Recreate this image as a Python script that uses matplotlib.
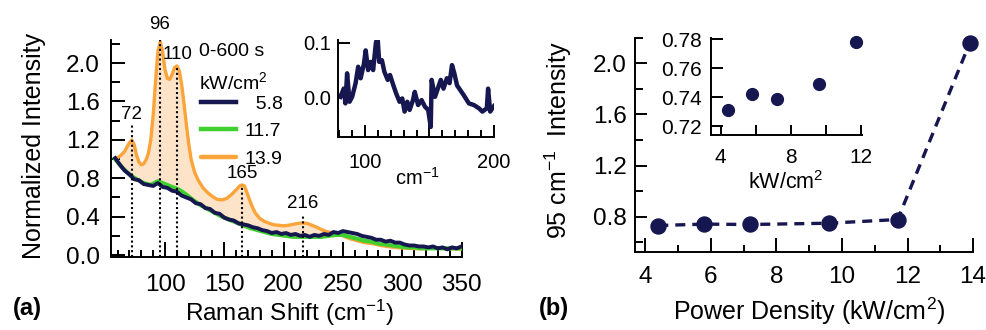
import numpy as np
import matplotlib
matplotlib.use("Agg")
import matplotlib.pyplot as plt
from matplotlib.ticker import MultipleLocator, FixedLocator, FormatStrFormatter

plt.rcParams['font.family'] = ['Liberation Sans', 'DejaVu Sans']
plt.rcParams['mathtext.fontset'] = 'custom'
plt.rcParams['mathtext.rm'] = 'Liberation Sans'
plt.rcParams['mathtext.it'] = 'Liberation Sans:italic'
plt.rcParams['mathtext.bf'] = 'Liberation Sans:bold'

NAVY = '#161650'
GREEN = '#3fcf2f'
ORANGE = '#fba43a'
FILL = '#fde4c9'

# ---- Raman spectra, 0-600 s accumulation (normalized) ----
shift_58 = [58, 62, 66, 70, 74, 78, 82, 86, 90, 94, 98, 102, 106, 110, 114, 118,
            122, 126, 130, 134, 138, 142, 146, 150, 154, 158, 162, 166, 170, 174,
            178, 182, 186, 190, 194, 198, 202, 206, 210, 214, 218, 222, 226, 230,
            234, 238, 242, 246, 250, 254, 258, 262, 266, 270, 274, 278, 282, 286,
            290, 294, 298, 302, 306, 310, 314, 318, 322, 326, 330, 334, 338, 342,
            346, 350]
int_58 = [1.01, 0.94, 0.88, 0.84, 0.79, 0.78, 0.74, 0.73, 0.72, 0.75, 0.71, 0.70,
          0.67, 0.66, 0.62, 0.60, 0.58, 0.54, 0.53, 0.49, 0.48, 0.44, 0.43, 0.39,
          0.37, 0.36, 0.33, 0.32, 0.31, 0.29, 0.28, 0.26, 0.25, 0.23, 0.24, 0.22,
          0.23, 0.21, 0.22, 0.20, 0.21, 0.19, 0.21, 0.20, 0.22, 0.21, 0.24, 0.23,
          0.25, 0.24, 0.23, 0.22, 0.20, 0.19, 0.18, 0.16, 0.16, 0.14, 0.15, 0.13,
          0.13, 0.11, 0.10, 0.10, 0.09, 0.09, 0.08, 0.09, 0.07, 0.08, 0.06, 0.08,
          0.07, 0.09]

shift_117 = [58, 64, 70, 76, 82, 88, 94, 100, 106, 112, 118, 124, 130, 136, 142,
             148, 154, 160, 166, 172, 178, 184, 190, 196, 202, 208, 214, 220, 226,
             232, 238, 244, 250, 256, 262, 268, 274, 280, 286, 292, 298, 304, 310,
             316, 322, 328, 334, 340, 346, 350]
int_117 = [1.00, 0.91, 0.84, 0.79, 0.75, 0.73, 0.77, 0.74, 0.71, 0.68, 0.63, 0.57,
           0.52, 0.48, 0.44, 0.40, 0.37, 0.34, 0.31, 0.28, 0.26, 0.24, 0.22, 0.21,
           0.20, 0.19, 0.19, 0.19, 0.19, 0.19, 0.20, 0.21, 0.21, 0.19, 0.17, 0.15,
           0.14, 0.12, 0.11, 0.10, 0.09, 0.08, 0.08, 0.07, 0.07, 0.07, 0.07, 0.07,
           0.07, 0.07]

shift_139 = [58, 62, 66, 69, 72, 74, 76, 78, 80, 82, 84, 86, 88, 90, 92, 94, 96,
             98, 100, 102, 104, 106, 108, 110, 112, 114, 116, 118, 120, 122, 125,
             128, 132, 136, 140, 144, 148, 152, 156, 160, 163, 165, 167, 170, 173,
             176, 180, 184, 188, 192, 196, 200, 204, 208, 212, 216, 220, 224, 228,
             232, 236, 240, 244, 250, 256, 262, 268, 275, 282, 290, 298, 306, 314,
             322, 330, 338, 344, 350]
int_139 = [1.00, 1.03, 1.08, 1.15, 1.20, 1.15, 1.04, 0.97, 0.94, 0.95, 0.99, 1.06,
           1.20, 1.45, 1.80, 2.12, 2.22, 2.12, 1.93, 1.84, 1.83, 1.88, 1.95, 1.97,
           1.92, 1.78, 1.58, 1.36, 1.16, 1.00, 0.86, 0.78, 0.70, 0.65, 0.61, 0.58,
           0.575, 0.59, 0.63, 0.68, 0.72, 0.73, 0.72, 0.62, 0.52, 0.44, 0.38, 0.35,
           0.33, 0.315, 0.31, 0.305, 0.31, 0.32, 0.33, 0.335, 0.33, 0.31, 0.29,
           0.265, 0.245, 0.235, 0.22, 0.20, 0.17, 0.15, 0.13, 0.12, 0.10, 0.085,
           0.075, 0.07, 0.065, 0.07, 0.075, 0.07, 0.065, 0.065]

power_levels = ['5.8', '11.7', '13.9']

# marked Raman modes
peak_pos = [72, 96, 110, 165, 216]
peak_line_top = [1.36, 2.24, 1.97, 0.73, 0.42]
peak_label_y = [1.46, 2.40, 2.09, 0.85, 0.54]
peak_label_x = [72, 95, 111, 165.5, 216]

# difference spectrum (inset)
diff_shift = [80.9, 83.5, 84.8, 86.1, 88.0, 90.0, 92.7, 94.7, 96.6, 99.2, 100.5,
              102.4, 104.5, 106.3, 108.4, 109.7, 111.0, 113.1, 115.0, 117.6, 119.4,
              122.0, 124.2, 126.8, 128.9, 130.7, 132.8, 134.6, 137.2, 138.6, 141.2,
              143.9, 146.5, 149.0, 151.0, 151.7, 154.3, 156.9, 158.8, 160.9, 163.5,
              165.6, 167.5, 169.3, 171.4, 174.0, 176.6, 180.6, 184.5, 188.4, 191.1,
              194.5, 195.5, 197.1, 200.0]
diff_int = [0.001, 0.016, -0.011, 0.044, -0.008, 0.001, 0.026, 0.056, 0.035, 0.062,
            0.086, 0.050, 0.065, 0.050, 0.099, 0.111, 0.065, 0.068, 0.047, 0.032,
            0.041, 0.022, 0.007, -0.008, -0.002, -0.026, -0.008, -0.023, -0.005,
            0.010, -0.014, -0.005, -0.017, -0.023, -0.054, 0.032, 0.001, 0.019,
            0.032, 0.016, 0.035, 0.026, 0.059, 0.044, 0.022, 0.013, 0.004, -0.011,
            -0.014, -0.020, -0.026, -0.020, 0.016, -0.026, -0.016]

# ---- 95 cm-1 intensity vs power density ----
power_density = [4.4, 5.8, 7.2, 9.6, 11.7, 13.9]
intensity_95 = [0.731, 0.742, 0.739, 0.749, 0.778, 2.16]


def style_axes(ax, lw=1.4):
    for s in ('top', 'right'):
        ax.spines[s].set_visible(False)
    for s in ('left', 'bottom'):
        ax.spines[s].set_linewidth(lw)
        ax.spines[s].set_color('black')
    ax.tick_params(which='both', direction='in', width=lw, top=False, right=False,
                   colors='black')


fig = plt.figure(figsize=(9.87, 3.30), dpi=100)

# ================= panel (a) =================
axA = fig.add_axes([0.1125, 0.2212, 0.3557, 0.6576])
style_axes(axA)

ox = np.array(shift_139, dtype=float)
oy = np.array(int_139, dtype=float)
base = np.interp(ox, shift_58, int_58)
sel = ox <= 245
axA.fill_between(ox[sel], base[sel], oy[sel], where=oy[sel] >= base[sel],
                 interpolate=True, color=FILL, lw=0, zorder=1)

l3, = axA.plot(shift_139, int_139, color=ORANGE, lw=2.4, zorder=3,
               solid_capstyle='round', solid_joinstyle='round')
l2, = axA.plot(shift_117, int_117, color=GREEN, lw=3.0, zorder=4,
               solid_joinstyle='round')
l1, = axA.plot(shift_58, int_58, color=NAVY, lw=2.8, zorder=5,
               solid_joinstyle='round')

axA.vlines(peak_pos, -0.02, peak_line_top, colors='black',
           linestyles=(0, (1, 1.3)), lw=1.5, zorder=6)
for px, py, lab in zip(peak_label_x, peak_label_y, peak_pos):
    axA.text(px, py, str(lab), ha='center', va='center', fontsize=13.5, zorder=7)

axA.set_xlim(54.5, 350.5)
axA.set_ylim(-0.02, 2.24)
axA.xaxis.set_major_locator(MultipleLocator(50))
axA.xaxis.set_minor_locator(MultipleLocator(10))
axA.yaxis.set_major_locator(MultipleLocator(0.4))
axA.yaxis.set_minor_locator(MultipleLocator(0.2))
axA.yaxis.set_major_formatter(FormatStrFormatter('%.1f'))
axA.xaxis.set_major_formatter(
    matplotlib.ticker.FuncFormatter(lambda v, p: '' if v < 90 else '%d' % v))
axA.tick_params(axis='y', which='major', length=10, pad=8, labelsize=17.5)
axA.tick_params(axis='y', which='minor', length=6.5)
axA.tick_params(axis='x', which='major', length=10.5, pad=12, labelsize=17.5)
axA.tick_params(axis='x', which='minor', length=5)

axA.set_xlabel('Raman Shift (cm$^{-1}$)', fontsize=17.5)
axA.xaxis.set_label_coords(0.51, -0.19)
axA.set_ylabel('Normalized Intensity', fontsize=18)
axA.yaxis.set_label_coords(-0.185, 0.51)

axA.text(0.2507, 0.945, '0-600 s', transform=axA.transAxes, fontsize=14,
         ha='left', va='center')
axA.text(0.2507, 0.806, 'kW/cm$^2$', transform=axA.transAxes, fontsize=14,
         ha='left', va='center')
leg = axA.legend([l1, l2, l3], ['  ' + power_levels[0], power_levels[1], power_levels[2]],
                 loc='upper left', bbox_to_anchor=(0.256, 0.745), frameon=False,
                 fontsize=14, handlelength=1.8, handletextpad=0.45,
                 labelspacing=0.5, borderpad=0, borderaxespad=0)
for h in leg.legend_handles:
    h.set_linewidth(3.2)

# inset: difference spectrum
insA = fig.add_axes([0.3424, 0.584, 0.158, 0.2948])
insA.set_facecolor('none')
style_axes(insA)
insA.plot(diff_shift, diff_int, color=NAVY, lw=3.2, solid_joinstyle='round')
insA.set_xlim(79, 200)
insA.set_ylim(-0.073, 0.105)
insA.xaxis.set_major_locator(FixedLocator([100, 150, 200]))
insA.xaxis.set_major_formatter(
    matplotlib.ticker.FuncFormatter(lambda v, p: '' if abs(v - 150) < 1 else '%d' % v))
insA.xaxis.set_minor_locator(MultipleLocator(10))
insA.yaxis.set_major_locator(FixedLocator([0.0, 0.1]))
insA.yaxis.set_major_formatter(FormatStrFormatter('%.1f'))
insA.tick_params(axis='x', which='major', length=8.5, pad=11, labelsize=14.5)
insA.tick_params(axis='x', which='minor', length=5)
insA.tick_params(axis='y', which='major', length=8.5, pad=5, labelsize=14.5)
insA.set_xlabel('cm$^{-1}$', fontsize=14.5)
insA.xaxis.set_label_coords(0.51, -0.3)

# ================= panel (b) =================
axB = fig.add_axes([0.6434, 0.2364, 0.3425, 0.6494])
style_axes(axB)
axB.plot(power_density, intensity_95, color=NAVY, lw=2.4, dashes=(3.0, 2.1),
         marker='o', ms=10.8, mec=NAVY, mfc=NAVY, clip_on=False, zorder=3)
axB.set_xlim(3.69, 14.0)
axB.set_ylim(0.524, 2.2)
axB.xaxis.set_major_locator(MultipleLocator(2))
axB.xaxis.set_minor_locator(MultipleLocator(1))
axB.yaxis.set_major_locator(FixedLocator([0.8, 1.2, 1.6, 2.0]))
axB.yaxis.set_minor_locator(FixedLocator([0.6, 1.0, 1.4, 1.8, 2.2]))
axB.yaxis.set_major_formatter(FormatStrFormatter('%.1f'))
axB.tick_params(axis='y', which='major', length=8.6, pad=6, labelsize=17.5)
axB.tick_params(axis='y', which='minor', length=5.8)
axB.tick_params(axis='x', which='major', length=10, pad=10, labelsize=17.5)
axB.tick_params(axis='x', which='minor', length=5)
axB.set_xlabel('Power Density (kW/cm$^2$)', fontsize=18)
axB.xaxis.set_label_coords(0.515, -0.205)
axB.set_ylabel('95 cm$^{-1}$  Intensity', fontsize=18)
axB.yaxis.set_label_coords(-0.18, 0.523)

# inset: low-power detail
insB = fig.add_axes([0.7204, 0.5909, 0.1527, 0.2948])
insB.set_facecolor('none')
style_axes(insB)
insB.plot(power_density[:5], intensity_95[:5], 'o', color=NAVY, ms=8.5,
          clip_on=False)
insB.set_xlim(3.45, 12.05)
insB.set_ylim(0.7138, 0.781)
insB.xaxis.set_major_locator(FixedLocator([4, 8, 12]))
insB.xaxis.set_minor_locator(FixedLocator([6, 10]))
insB.yaxis.set_major_locator(FixedLocator([0.72, 0.74, 0.76, 0.78]))
insB.yaxis.set_major_formatter(FormatStrFormatter('%.2f'))
insB.tick_params(axis='x', which='both', length=7, pad=9, labelsize=15)
insB.tick_params(axis='y', which='major', length=8.5, pad=6.5, labelsize=15)
insB.set_xlabel('kW/cm$^2$', fontsize=15.5)
insB.xaxis.set_label_coords(0.498, -0.37)

fig.text(27 / 987, 1 - 308 / 330, '(a)', fontsize=17, fontweight='bold',
         ha='center', va='center')
fig.text(554 / 987, 1 - 308 / 330, '(b)', fontsize=17, fontweight='bold',
         ha='center', va='center')

fig.savefig('out.png', dpi=100)
